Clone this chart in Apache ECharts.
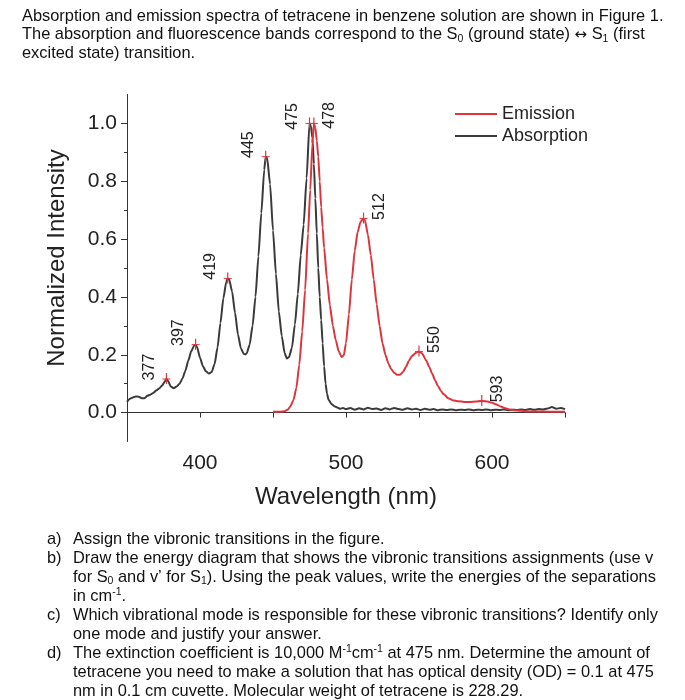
<!DOCTYPE html>
<html>
<head>
<meta charset="utf-8">
<script src="https://cdn.jsdelivr.net/npm/echarts@6/dist/echarts.min.js"></script>
<style>
html,body{margin:0;padding:0;background:#fff;}
#chart{width:685px;height:700px;}
</style>
</head>
<body>
<div id="chart"></div>
<script>
// ---------------- data ----------------
const absWl = [350,352,354,356,358,360,362,364,366,368,370,372,374,376,377,378,380,382,384,386,388,390,392,394,396,397,398,400,402,404,406,408,410,412,414,416,418,419,420,422,424,426,428,430,431,432,434,436,438,440,442,444,445,446,448,450,452,454,456,458,459.5,461,463,465,467,469,471,473,475,476,477,478,479,480,481,482,483,484,485,486,487,488,490,492,494,496,498,500,503,506,509,512,515,518,521,524,527,530,533,536,539,542,545,548,551,554,557,560,563,566,569,572,575,578,581,584,587,590,593,596,599,602,605,608,611,614,617,620,623,626,629,632,635,638,641,644,647,650];
const absVal = [0.037,0.048,0.052,0.056,0.055,0.050,0.050,0.058,0.062,0.068,0.076,0.083,0.094,0.108,0.116,0.110,0.090,0.084,0.090,0.100,0.118,0.145,0.180,0.212,0.232,0.235,0.226,0.190,0.160,0.143,0.135,0.140,0.168,0.225,0.310,0.395,0.452,0.464,0.460,0.418,0.345,0.270,0.222,0.203,0.201,0.205,0.235,0.300,0.400,0.540,0.690,0.840,0.885,0.880,0.790,0.630,0.480,0.350,0.265,0.205,0.187,0.192,0.225,0.305,0.410,0.545,0.650,0.810,1.000,0.990,0.950,0.860,0.740,0.620,0.500,0.400,0.320,0.240,0.160,0.100,0.065,0.045,0.030,0.022,0.018,0.013,0.016,0.012,0.016,0.010,0.015,0.011,0.017,0.012,0.014,0.009,0.015,0.011,0.016,0.012,0.010,0.015,0.011,0.013,0.009,0.013,0.010,0.012,0.008,0.011,0.009,0.011,0.008,0.010,0.009,0.011,0.008,0.010,0.009,0.011,0.008,0.010,0.009,0.011,0.008,0.010,0.009,0.011,0.009,0.012,0.010,0.012,0.011,0.014,0.019,0.013,0.016,0.012];

const emWl = [450,455,458,460,462,464,466,468,470,472,474,475.5,477,478,479,480,481,482,483,484,485,487,489,491,493,495,497,498.5,500,502,504,506,508,510,512,513,515,517,519,521,523,525,527,529,531,533,535,537,539,541,543,545,548,550,552,555,557,559,561,563,565,567,570,573,577,581,585,589,593,597,600,603,606,609,612,615,620,625,630,640,650];
const emVal = [0.003,0.003,0.005,0.010,0.022,0.043,0.085,0.165,0.280,0.424,0.620,0.770,0.930,1.000,0.985,0.940,0.885,0.800,0.710,0.640,0.570,0.460,0.370,0.300,0.250,0.212,0.192,0.198,0.240,0.340,0.460,0.560,0.625,0.660,0.671,0.665,0.615,0.545,0.460,0.375,0.300,0.240,0.200,0.170,0.150,0.138,0.131,0.131,0.140,0.158,0.178,0.195,0.207,0.211,0.205,0.180,0.158,0.135,0.112,0.092,0.075,0.063,0.050,0.043,0.039,0.037,0.037,0.038,0.040,0.038,0.034,0.028,0.021,0.015,0.011,0.008,0.006,0.004,0.004,0.003,0.003];

const absPeaks = [377,397,419,445,475];
const emPeaks = [478,512,550,593];

const xTickLabels = [400,500,600];
const yTickLabels = [0,0.2,0.4,0.6,0.8,1.0];
const yMinorTicks = [0.1,0.3,0.5,0.7,0.9];

const seriesNames = ['Emission','Absorption'];

const introLines = [
  'Absorption and emission spectra of tetracene in benzene solution are shown in Figure 1.',
  'The absorption and fluorescence bands correspond to the S{sub|0} (ground state) {ar|↔} S{sub|1} (first',
  'excited state) transition.'
];
const questionItems = [
  ['a)', ['Assign the vibronic transitions in the figure.']],
  ['b)', ['Draw the energy diagram that shows the vibronic transitions assignments (use v',
          'for S{sub|0} and v’ for S{sub|1}). Using the peak values, write the energies of the separations',
          'in cm{sup|-1}.']],
  ['c)', ['Which vibrational mode is responsible for these vibronic transitions? Identify only',
          'one mode and justify your answer.']],
  ['d)', ['The extinction coefficient is 10,000 M{sup|-1}cm{sup|-1} at 475 nm. Determine the amount of',
          'tetracene you need to make a solution that has optical density (OD) = 0.1 at 475',
          'nm in 0.1 cm cuvette. Molecular weight of tetracene is 228.29.']]
];

// ---------------- build ----------------
const FONT = "'Liberation Sans', Arial, Helvetica, sans-serif";
const RED = '#e0343c';
const DARK = '#3a3a3a';

const absData = absWl.map((w,i)=>[w, absVal[i]]);
const emData = emWl.map((w,i)=>[w, emVal[i]]);
function peakData(peaks, wl, vals){
  return peaks.map(p => [p, vals[wl.indexOf(p)]]);
}
const absPeakData = peakData(absPeaks, absWl, absVal);
const emPeakData = peakData(emPeaks, emWl, emVal);

const labelShift = {475: 5, 478: 4};
function peakRenderer(peaks, side){
  return function(params, api){
    const p = api.coord([api.value(0), api.value(1)]);
    const w = peaks[params.dataIndex];
    const dx = side < 0 ? -17 : 16;
    const dy = -12 + (labelShift[w] || 0);
    return {
      type:'group',
      children:[
        {type:'line', shape:{x1:p[0], y1:p[1]-6, x2:p[0], y2:p[1]+5}, style:{stroke:RED, lineWidth:1.2}},
        {type:'line', shape:{x1:p[0]-4, y1:p[1], x2:p[0]+4, y2:p[1]}, style:{stroke:RED, lineWidth:1}},
        {type:'text', x:p[0]+dx, y:p[1]+dy, rotation:Math.PI/2,
          style:{text:String(w), fontSize:16, fontFamily:FONT, fill:'#222', align:'center', verticalAlign:'middle'}}
      ]
    };
  };
}

const rich = {
  sub:{fontSize:10.5, fontFamily:FONT, fill:'#111', verticalAlign:'bottom', lineHeight:19},
  sup:{fontSize:10.5, fontFamily:FONT, fill:'#111', verticalAlign:'top', lineHeight:19},
  ar:{fontSize:15, fontFamily:"'DejaVu Sans', 'Liberation Sans', sans-serif", fill:'#111', lineHeight:19}
};
const TXT = 16.4;
const graphics = [];
introLines.forEach((t,i)=>{
  graphics.push({type:'text', x:22, y:16 + i*18.7,
    style:{text:t, fontSize:TXT, fontFamily:FONT, fill:'#111', verticalAlign:'middle', lineHeight:19, rich:rich}});
});
let row = 0;
questionItems.forEach(([lab, lines])=>{
  graphics.push({type:'text', x:47, y:539 + row*19,
    style:{text:lab, fontSize:TXT, fontFamily:FONT, fill:'#111', verticalAlign:'middle', lineHeight:19}});
  lines.forEach(l=>{
    graphics.push({type:'text', x:73, y:539 + row*19,
      style:{text:l, fontSize:TXT, fontFamily:FONT, fill:'#111', verticalAlign:'middle', lineHeight:19, rich:rich}});
    row++;
  });
});

const axisColor = '#333';
const option = {
  backgroundColor:'#fff',
  animation:false,
  textStyle:{fontFamily:FONT},
  grid:{left:127, right:120, top:94.5, bottom:258.5, containLabel:false},
  legend:{
    data:seriesNames, orient:'vertical', left:450, top:100,
    icon:'rect', itemWidth:42, itemHeight:2, itemGap:4,
    textStyle:{fontSize:18, color:'#222', fontFamily:FONT}
  },
  xAxis:{
    type:'value', min:350, max:650, interval:50,
    axisLine:{lineStyle:{color:axisColor, width:1}},
    axisTick:{length:5, lineStyle:{color:axisColor}},
    axisLabel:{customValues:xTickLabels, fontSize:21, color:'#222', margin:11, fontFamily:FONT},
    splitLine:{show:false},
    name:'Wavelength (nm)', nameLocation:'middle', nameGap:44,
    nameTextStyle:{fontSize:24, color:'#222', fontFamily:FONT}
  },
  yAxis:[{
    type:'value', min:-0.1, max:1.1, interval:0.1, position:'left',
    axisLine:{show:true, lineStyle:{color:axisColor, width:1}},
    axisTick:{show:true, customValues:yTickLabels, length:6, lineStyle:{color:axisColor}},
    axisLabel:{customValues:yTickLabels, formatter:v=>Number(v).toFixed(1), fontSize:21, color:'#222', margin:10, fontFamily:FONT},
    splitLine:{show:false},
    name:'Normalized Intensity', nameLocation:'middle', nameGap:58,
    nameTextStyle:{fontSize:24, color:'#222', fontFamily:FONT, padding:[0,0,0,20]}
  },{
    type:'value', min:-0.1, max:1.1, interval:0.1, position:'left', offset:0,
    axisLine:{show:false},
    axisTick:{show:true, customValues:yMinorTicks, length:3, lineStyle:{color:axisColor}},
    axisLabel:{show:false},
    splitLine:{show:false}
  }],
  series:[
    {name:'Absorption', type:'line', data:absData, showSymbol:false, symbol:'none',
     smooth:0.2, smoothMonotone:'x', lineStyle:{color:DARK, width:2}, itemStyle:{color:DARK}, z:2},
    {name:'Emission', type:'line', data:emData, showSymbol:false, symbol:'none',
     smooth:0.2, smoothMonotone:'x', lineStyle:{color:RED, width:2}, itemStyle:{color:RED}, z:3},
    {type:'custom', data:absPeakData, renderItem:peakRenderer(absPeaks,-1), clip:false, z:5, silent:true},
    {type:'custom', data:emPeakData, renderItem:peakRenderer(emPeaks,1), clip:false, z:5, silent:true}
  ],
  graphic:graphics
};
const chart = echarts.init(document.getElementById('chart'), null, {renderer:'canvas'});
chart.setOption(option);
</script>
</body>
</html>
